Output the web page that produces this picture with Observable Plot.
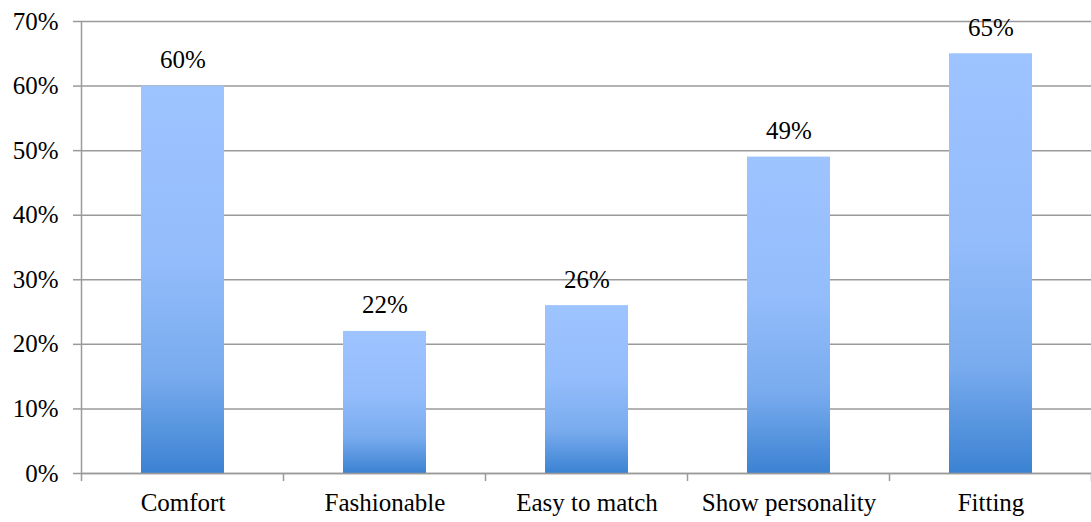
<!DOCTYPE html>
<html>
<head>
<meta charset="utf-8">
<script src="https://cdn.jsdelivr.net/npm/d3@7"></script>
<script src="https://cdn.jsdelivr.net/npm/@observablehq/plot@0.6"></script>
<style>
  html, body { margin: 0; padding: 0; background: #fff; }
  #chart svg { display: block; }
</style>
</head>
<body>
<div id="chart"></div>
<script>
// Share of respondents naming each factor (percent)
const categories = ["Comfort", "Fashionable", "Easy to match", "Show personality", "Fitting"];
const values = [60, 22, 26, 49, 65];
const yTicks = [0, 10, 20, 30, 40, 50, 60, 70];

const data = categories.map((c, i) => ({category: c, value: values[i]}));

const gridColor = "#9a9a9a";
const serif = "'Liberation Serif', 'Times New Roman', serif";

const plot = Plot.plot({
  width: 1091,
  height: 522,
  marginLeft: 81,
  marginRight: 0,
  marginTop: 21,
  marginBottom: 49,
  style: {fontSize: "25px", color: "#000", background: "#fff"},
  x: {domain: categories, paddingInner: 0.59, paddingOuter: 0.295},
  y: {domain: [0, 70]},
  marks: [
    Plot.gridY(yTicks, {stroke: gridColor, strokeOpacity: 1, strokeWidth: 1.5}),
    Plot.barY(data, {x: "category", y: "value", fill: "url(#barGradient)"}),
    Plot.ruleY([0], {stroke: gridColor, strokeWidth: 1.5}),
    Plot.axisY(yTicks, {
      tickFormat: d => d + "%",
      tickSize: 8,
      tickPadding: 15,
      stroke: gridColor,
      strokeWidth: 1.5,
      fontSize: 25,
      fill: "#000",
      label: null
    }),
    Plot.axisX({tickSize: 0, tickPadding: 20, fontSize: 25, fill: "#000", label: null}),
    Plot.text(data, {
      x: "category",
      y: "value",
      text: d => d.value + "%",
      dy: -18,
      lineAnchor: "bottom",
      fontSize: 25,
      fill: "#000"
    })
  ]
});

const svg = d3.select(plot);
// Serif typeface for every label
plot.style.setProperty("font-family", serif, "important");
svg.selectAll("g, text").each(function() {
  this.style.setProperty("font-family", serif, "important");
});

// Vertical gradient applied per bar (object bounding box)
const grad = svg.insert("defs", ":first-child")
  .append("linearGradient")
  .attr("id", "barGradient")
  .attr("x1", 0).attr("y1", 0).attr("x2", 0).attr("y2", 1);
grad.append("stop").attr("offset", "0%").attr("stop-color", "#9ec4ff");
grad.append("stop").attr("offset", "45%").attr("stop-color", "#93bcfb");
grad.append("stop").attr("offset", "75%").attr("stop-color", "#78abee");
grad.append("stop").attr("offset", "100%").attr("stop-color", "#3b82d2");

// Category axis frame: vertical axis line and tick marks between categories
const xs = plot.scale("x");
const ys = plot.scale("y");
const gap = (xs.step - xs.bandwidth) / 2;
const y0 = ys.apply(0);
const yTop = ys.apply(70);
const edges = categories.map(c => xs.apply(c) - gap)
  .concat([xs.apply(categories[categories.length - 1]) + xs.bandwidth + gap]);
const frame = svg.append("g").attr("stroke", gridColor).attr("stroke-width", 1.5);
frame.append("line")
  .attr("x1", edges[0]).attr("x2", edges[0])
  .attr("y1", yTop).attr("y2", y0 + 8);
edges.slice(1).forEach(e => {
  frame.append("line").attr("x1", e).attr("x2", e).attr("y1", y0).attr("y2", y0 + 8);
});

document.getElementById("chart").appendChild(plot);
</script>
</body>
</html>
